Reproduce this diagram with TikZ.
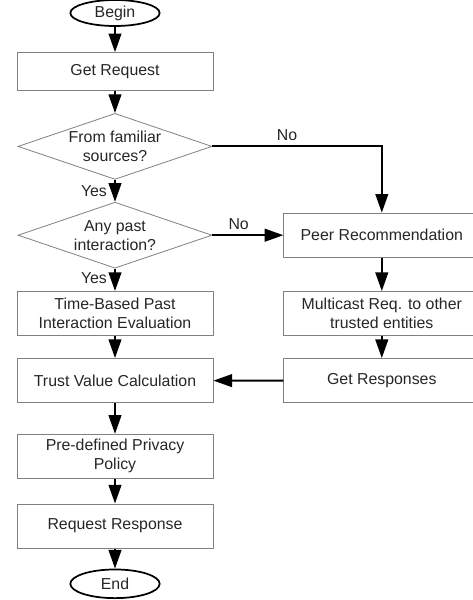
\documentclass[tikz,border=0pt]{standalone}
\usepackage{fontspec}
\setsansfont{Liberation Sans}
\usetikzlibrary{positioning, arrows.meta, shapes.geometric}

\begin{document}
\begin{tikzpicture}[
        x=0.75pt, y=0.75pt,
        node distance=16.5pt,
        every node/.style={font=\fontsize{11.9}{14.3}\sffamily, text=black!85},
        box/.style={rectangle, draw=black!50, line width=0.6pt, minimum width=147pt,
            minimum height=33.2pt, align=center, inner sep=1pt},
        decision/.style={diamond, draw=black!50, line width=0.6pt, minimum width=145.5pt,
            minimum height=49.5pt, shape aspect=2.9, align=center, inner sep=0pt},
        terminal/.style={ellipse, draw=black, line width=1.3pt, minimum width=67pt,
            minimum height=19.5pt, inner sep=0pt},
        arrow/.style={-{Triangle[length=14pt, width=9.5pt]}, line width=1.5pt},
    ]
    \useasboundingbox (0,0) rectangle (473,-600);
    \node[terminal] (begin) at (115,-13) {Begin};
    \node[box, minimum height=28.5pt, below=19pt of begin] (getreq) {Get Request};
    \node[decision, below=of getreq] (familiar) {From familiar\\sources?};
    \node[decision, below=of familiar] (past) {Any past\\interaction?};
    \node[box, below=16.8pt of past] (timeeval) {Time-Based Past\\Interaction Evaluation};
    \node[box, below=of timeeval] (trustcalc) {Trust Value Calculation};
    \node[box, below=23pt of trustcalc] (policy) {Pre-defined Privacy\\Policy};
    \node[box, below=18.5pt of policy] (reqresp) {Request Response};
    \node[terminal, minimum height=21.5pt, below=15pt of reqresp] (end) {End};
    \node[box, right=53.25pt of past] (peer) {Peer Recommendation};
    \node[box, below=25pt of peer] (multicast) {Multicast Req. to other\\trusted entities};
    \node[box, below=of multicast] (getresp) {Get Responses};
    \draw[arrow] (begin) -- (getreq);
    \draw[arrow] (getreq) -- (familiar);
    \draw[arrow] (familiar) -- node[left, xshift=-2pt] {Yes} (past);
    \draw[arrow] (past) -- node[left, xshift=-2pt, yshift=1pt] {Yes} (timeeval);
    \draw[arrow] (timeeval) -- (trustcalc);
    \draw[arrow] (trustcalc) -- (policy);
    \draw[arrow] (policy) -- (reqresp);
    \draw[arrow] (reqresp) -- (end);
    \draw[arrow] (familiar.east) -| node[pos=0.22, above] {No} (peer.north);
    \draw[arrow] (past) -- node[pos=0.37, above] {No} (peer);
    \draw[arrow] (peer) -- (multicast);
    \draw[arrow] (multicast) -- (getresp);
    \draw[arrow] (getresp) -- (trustcalc);
\end{tikzpicture}
\end{document}
